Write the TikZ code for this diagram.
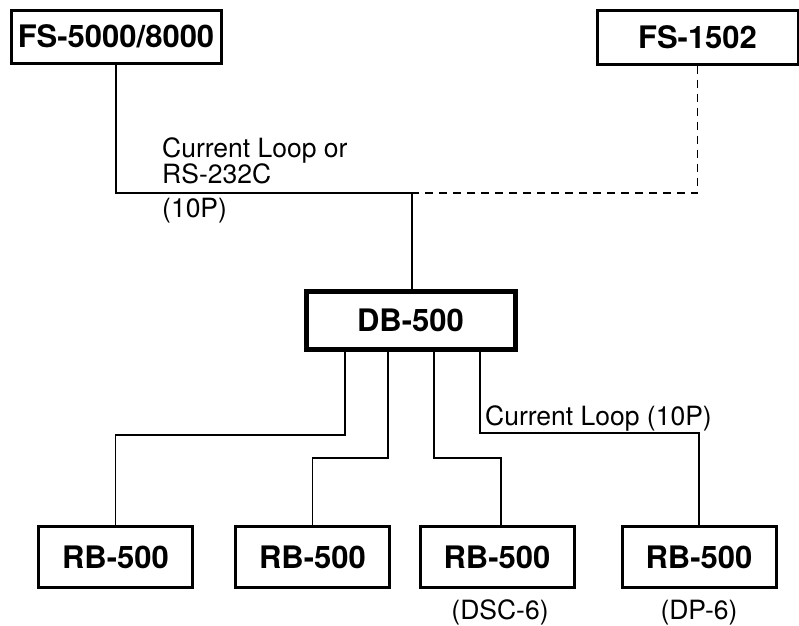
\documentclass[tikz,border=0pt]{standalone}
\usepackage{fontspec}
\setmainfont{TeX Gyre Heros}
\begin{document}
\begin{tikzpicture}[x=1pt,y=-1pt,
  box/.style={draw, line width=3pt, minimum width=#1, minimum height=55pt, inner sep=0pt,
    font=\fontsize{31}{37}\selectfont\bfseries},
  rbox/.style={box=154pt, minimum height=61pt},
  conn/.style={line width=1.6pt},
  dashconn/.style={line width=1.6pt, dash pattern=on 8pt off 6pt},
  lab/.style={inner sep=0pt, font=\fontsize{26.5}{30}\selectfont}]
\useasboundingbox (0,0) rectangle (799,625);
% top boxes
\node[box=210pt, minimum height=53pt] (fs5) at (116,36.5) {FS-5000/8000};
\node[box=201pt, minimum height=54pt] (fs15) at (697.5,37) {FS-1502};
% distribution box
\node[box=209pt, minimum height=58pt, line width=5pt] (db) at (410.5,320) {DB-500};
% remote boxes
\node[rbox] (rb1) at (115.5,557) {RB-500};
\node[rbox] (rb2) at (312.5,557) {RB-500};
\node[rbox] (rb3) at (497,557) {RB-500};
\node[rbox] (rb4) at (699,557) {RB-500};
% junction and bends
\coordinate (j) at (412,193);
\coordinate (k1) at (345,435);
\coordinate (k2) at (388,458);
\coordinate (k3) at (434,458);
\coordinate (m3) at (501,458);
\coordinate (k4) at (480,433);
% connectors
\draw[conn] (fs5.south) |- (j);
\draw[dashconn] (fs15.south) |- (j);
\draw[conn] (j) -- (j |- db.north);
\draw[conn] (db.south -| k1) -- (k1) -| (rb1.north);
\draw[conn] (db.south -| k2) -- (k2) -| (rb2.north);
\draw[conn] (db.south -| k3) -- (k3) -- (m3) -- (m3 |- rb3.north);
\draw[conn] (db.south -| k4) -- (k4) -| (rb4.north);
% labels
\node[lab, anchor=base west] (l1) at (162,157) {Current Loop or};
\node[lab, anchor=base west] (l2) at (162,183) {RS-232C};
\node[lab, anchor=base west] (l3) at (162,217) {(10P)};
\node[lab, anchor=base west] (l4) at (485,425) {Current Loop (10P)};
\node[lab, anchor=base] (l5) at (500,619) {(DSC-6)};
\node[lab, anchor=base] (l6) at (699,619) {(DP-6)};
\end{tikzpicture}
\end{document}
